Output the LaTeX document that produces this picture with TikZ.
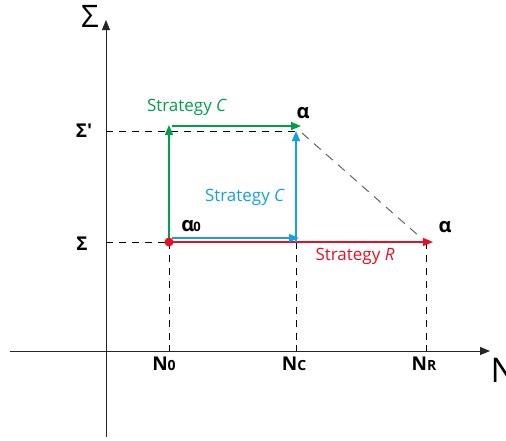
\documentclass[tikz,border=0pt]{standalone}
\usepackage{fontspec}
\setmainfont{Open Sans}
\usetikzlibrary{arrows.meta}
\definecolor{cgreen}{RGB}{0,160,75}
\definecolor{cblue}{RGB}{20,160,230}
\definecolor{cred}{RGB}{232,15,35}
\definecolor{cgray}{RGB}{100,100,100}
\begin{document}
\begin{tikzpicture}[x=1pt,y=-1pt,
  axis/.style={draw=black!85,line width=1pt},
  guide/.style={draw=black,line width=1pt,dash pattern=on 7pt off 6pt},
  tip/.style={-{Triangle[length=10pt,width=8pt]}},
  lbl/.style={font=\fontsize{17}{19}\selectfont},
  blbl/.style={font=\bfseries\fontsize{19}{21}\selectfont},
  gbl/.style={font=\bfseries\fontsize{20}{22}\selectfont}]
\useasboundingbox (0,0) rectangle (506,440);
% coordinates
\coordinate (yb) at (106,437);
\coordinate (yt) at (106,20);
\coordinate (xl) at (10,351);
\coordinate (xr) at (490,351);
\coordinate (ya) at (106,131);
\coordinate (yc) at (106,242);
\coordinate (A0) at (169,242);
\coordinate (S1) at (169,131);
\coordinate (C0) at (296,242);
\coordinate (C1) at (296,131);
\coordinate (R0) at (426,242);
\coordinate (t0) at (169,351);
\coordinate (tc) at (296,351);
\coordinate (tr) at (426,351);
% axes
\draw[axis,tip] (yb) -- (yt);
\draw[axis,tip] (xl) -- (xr);
\node[font=\fontsize{31}{33}\selectfont] (sig) at (90,16) {Σ};
\node[font=\fontsize{34}{36}\selectfont,anchor=west] (nax) at (487,370) {N};
% ticks
\draw[black,line width=0.9pt] (t0) -- ++(0,-6) (tc) -- ++(0,-6) (tr) -- ++(0,-6);
% guides
\draw[guide] (ya) -- (C1);
\draw[guide] (yc) -- (A0);
\draw[guide] (A0) -- (t0);
\draw[guide] (C0) -- (tc);
\draw[guide] (R0) -- (tr);
\draw[cgray,line width=1pt,dash pattern=on 9pt off 7pt] (302,133) -- (420,237);
% red
\draw[cred,line width=1.4pt,tip] (A0) -- (433,242);
% blue
\draw[cblue,line width=1.4pt,tip] (172,238) -- (299,238);
\draw[cblue,line width=1.4pt,tip] (C0) -- (296,131);
% green
\draw[cgreen,line width=1.4pt,tip] (A0) -- (169,125);
\draw[cgreen,line width=1.4pt,tip] (172,126) -- (301,126);
\fill[cred] (A0) circle (4.5);
% labels
\node[lbl,text=cgreen] (sc1) at (187,107) {Strategy \textit{C}};
\node[lbl,text=cblue] (sc2) at (245,197) {Strategy \textit{C}};
\node[lbl,text=cred] (sr) at (355,256) {Strategy \textit{R}};
\node[gbl] (al1) at (303,113) {α};
\node[gbl] (al2) at (445,227) {α};
\node[gbl] (al0) at (191,226) {α\hspace{-1pt}{\fontsize{13}{13}\selectfont 0}};
\node[blbl] (sp) at (84,131) {Σ′};
\node[blbl] (s0) at (82,244) {Σ};
\node[blbl] (n0) at (164,364) {N{\fontsize{14}{14}\selectfont 0}};
\node[blbl] (nc) at (294,364) {N{\fontsize{14}{14}\selectfont C}};
\node[blbl] (nr) at (424,364) {N{\fontsize{14}{14}\selectfont R}};
\end{tikzpicture}
\end{document}
